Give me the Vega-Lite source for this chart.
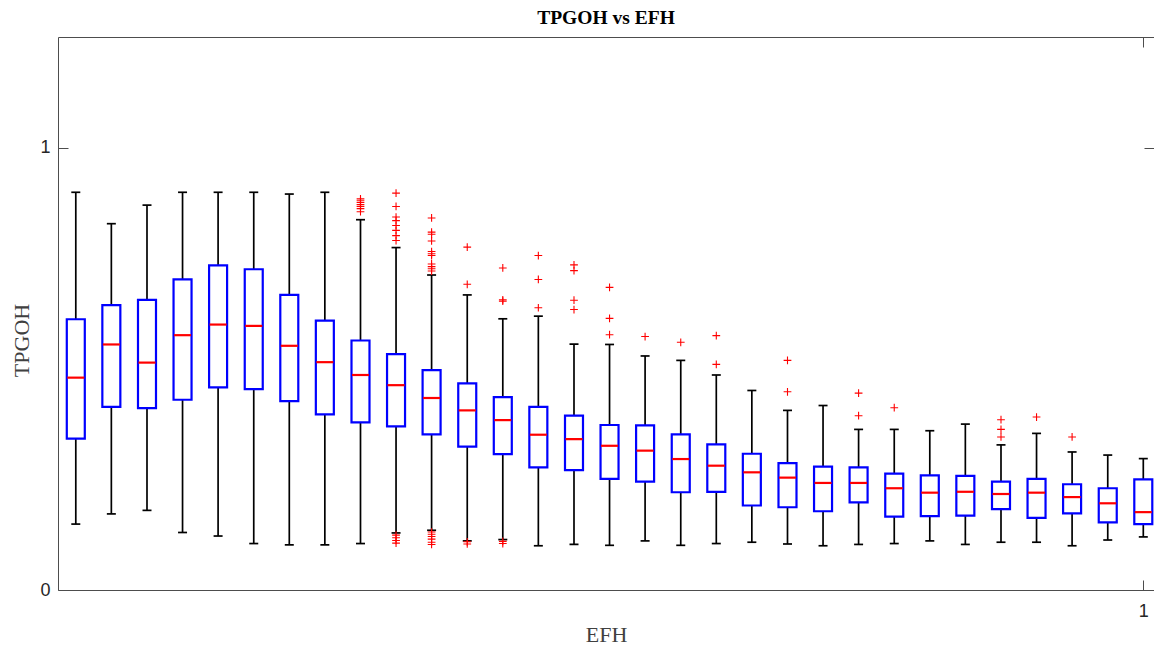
{
  "$schema": "https://vega.github.io/schema/vega-lite/v6.json",
  "width": 1096,
  "height": 553,
  "autosize": {"type": "none"},
  "padding": {"left": 58, "top": 37, "right": 0, "bottom": 56},
  "background": "white",
  "title": {
    "text": "TPGOH vs EFH",
    "font": "Liberation Serif",
    "fontSize": 19.5,
    "fontWeight": "bold",
    "color": "#000000",
    "offset": 8,
    "anchor": "middle"
  },
  "config": {
    "view": {"stroke": null},
    "axis": {"grid": false}
  },
  "datasets": {
    "boxes": [
      {"pos": 0, "low": 0.149, "q1": 0.342, "med": 0.480, "q3": 0.612, "high": 0.899},
      {"pos": 0.0333, "low": 0.172, "q1": 0.414, "med": 0.555, "q3": 0.644, "high": 0.828},
      {"pos": 0.0667, "low": 0.180, "q1": 0.411, "med": 0.514, "q3": 0.656, "high": 0.870},
      {"pos": 0.1, "low": 0.130, "q1": 0.430, "med": 0.576, "q3": 0.702, "high": 0.899},
      {"pos": 0.1333, "low": 0.122, "q1": 0.458, "med": 0.600, "q3": 0.734, "high": 0.899},
      {"pos": 0.1667, "low": 0.105, "q1": 0.454, "med": 0.597, "q3": 0.725, "high": 0.899},
      {"pos": 0.2, "low": 0.102, "q1": 0.427, "med": 0.552, "q3": 0.667, "high": 0.895},
      {"pos": 0.2333, "low": 0.102, "q1": 0.397, "med": 0.515, "q3": 0.609, "high": 0.899},
      {"pos": 0.2667, "low": 0.105, "q1": 0.379, "med": 0.486, "q3": 0.564, "high": 0.837},
      {"pos": 0.3, "low": 0.129, "q1": 0.370, "med": 0.463, "q3": 0.533, "high": 0.774},
      {"pos": 0.3333, "low": 0.135, "q1": 0.352, "med": 0.434, "q3": 0.497, "high": 0.712},
      {"pos": 0.3667, "low": 0.111, "q1": 0.324, "med": 0.406, "q3": 0.467, "high": 0.667},
      {"pos": 0.4, "low": 0.114, "q1": 0.307, "med": 0.384, "q3": 0.436, "high": 0.613},
      {"pos": 0.4333, "low": 0.100, "q1": 0.277, "med": 0.351, "q3": 0.414, "high": 0.619},
      {"pos": 0.4667, "low": 0.103, "q1": 0.271, "med": 0.341, "q3": 0.394, "high": 0.556},
      {"pos": 0.5, "low": 0.101, "q1": 0.251, "med": 0.326, "q3": 0.373, "high": 0.555},
      {"pos": 0.5333, "low": 0.111, "q1": 0.245, "med": 0.315, "q3": 0.372, "high": 0.529},
      {"pos": 0.5667, "low": 0.101, "q1": 0.221, "med": 0.296, "q3": 0.352, "high": 0.519},
      {"pos": 0.6, "low": 0.105, "q1": 0.222, "med": 0.281, "q3": 0.329, "high": 0.486},
      {"pos": 0.6333, "low": 0.108, "q1": 0.191, "med": 0.266, "q3": 0.308, "high": 0.451},
      {"pos": 0.6667, "low": 0.104, "q1": 0.187, "med": 0.254, "q3": 0.287, "high": 0.406},
      {"pos": 0.7, "low": 0.100, "q1": 0.178, "med": 0.242, "q3": 0.279, "high": 0.417},
      {"pos": 0.7333, "low": 0.103, "q1": 0.198, "med": 0.242, "q3": 0.277, "high": 0.363},
      {"pos": 0.7667, "low": 0.105, "q1": 0.166, "med": 0.230, "q3": 0.263, "high": 0.363},
      {"pos": 0.8, "low": 0.111, "q1": 0.167, "med": 0.220, "q3": 0.259, "high": 0.360},
      {"pos": 0.8333, "low": 0.103, "q1": 0.168, "med": 0.222, "q3": 0.258, "high": 0.375},
      {"pos": 0.8667, "low": 0.108, "q1": 0.183, "med": 0.217, "q3": 0.245, "high": 0.328},
      {"pos": 0.9, "low": 0.108, "q1": 0.163, "med": 0.220, "q3": 0.251, "high": 0.354},
      {"pos": 0.9333, "low": 0.100, "q1": 0.173, "med": 0.210, "q3": 0.239, "high": 0.312},
      {"pos": 0.9667, "low": 0.113, "q1": 0.153, "med": 0.196, "q3": 0.230, "high": 0.305},
      {"pos": 1, "low": 0.120, "q1": 0.149, "med": 0.176, "q3": 0.250, "high": 0.297}
    ],
    "outliers": [
      {"pos": 0.2667, "v": 0.884}, {"pos": 0.2667, "v": 0.880}, {"pos": 0.2667, "v": 0.876}, {"pos": 0.2667, "v": 0.871},
      {"pos": 0.2667, "v": 0.867}, {"pos": 0.2667, "v": 0.862}, {"pos": 0.2667, "v": 0.855},
      {"pos": 0.3, "v": 0.897}, {"pos": 0.3, "v": 0.867}, {"pos": 0.3, "v": 0.843}, {"pos": 0.3, "v": 0.835},
      {"pos": 0.3, "v": 0.824}, {"pos": 0.3, "v": 0.813}, {"pos": 0.3, "v": 0.801}, {"pos": 0.3, "v": 0.790},
      {"pos": 0.3, "v": 0.124}, {"pos": 0.3, "v": 0.118}, {"pos": 0.3, "v": 0.112}, {"pos": 0.3, "v": 0.106},
      {"pos": 0.3333, "v": 0.841}, {"pos": 0.3333, "v": 0.809}, {"pos": 0.3333, "v": 0.804}, {"pos": 0.3333, "v": 0.789},
      {"pos": 0.3333, "v": 0.765}, {"pos": 0.3333, "v": 0.760}, {"pos": 0.3333, "v": 0.756}, {"pos": 0.3333, "v": 0.737},
      {"pos": 0.3333, "v": 0.731}, {"pos": 0.3333, "v": 0.726}, {"pos": 0.3333, "v": 0.721},
      {"pos": 0.3333, "v": 0.131}, {"pos": 0.3333, "v": 0.126}, {"pos": 0.3333, "v": 0.121}, {"pos": 0.3333, "v": 0.115},
      {"pos": 0.3333, "v": 0.108}, {"pos": 0.3333, "v": 0.103},
      {"pos": 0.3667, "v": 0.775}, {"pos": 0.3667, "v": 0.691}, {"pos": 0.3667, "v": 0.109}, {"pos": 0.3667, "v": 0.104},
      {"pos": 0.4, "v": 0.728}, {"pos": 0.4, "v": 0.656}, {"pos": 0.4, "v": 0.653}, {"pos": 0.4, "v": 0.110}, {"pos": 0.4, "v": 0.105},
      {"pos": 0.4333, "v": 0.756}, {"pos": 0.4333, "v": 0.702}, {"pos": 0.4333, "v": 0.638},
      {"pos": 0.4667, "v": 0.735}, {"pos": 0.4667, "v": 0.722}, {"pos": 0.4667, "v": 0.655}, {"pos": 0.4667, "v": 0.634},
      {"pos": 0.5, "v": 0.684}, {"pos": 0.5, "v": 0.614}, {"pos": 0.5, "v": 0.577},
      {"pos": 0.5333, "v": 0.573},
      {"pos": 0.5667, "v": 0.560},
      {"pos": 0.6, "v": 0.575}, {"pos": 0.6, "v": 0.510},
      {"pos": 0.6667, "v": 0.519}, {"pos": 0.6667, "v": 0.448},
      {"pos": 0.7333, "v": 0.445}, {"pos": 0.7333, "v": 0.394},
      {"pos": 0.7667, "v": 0.412},
      {"pos": 0.8667, "v": 0.385}, {"pos": 0.8667, "v": 0.363}, {"pos": 0.8667, "v": 0.346},
      {"pos": 0.9, "v": 0.391},
      {"pos": 0.9333, "v": 0.346}
    ]
  },
  "resolve": {"axis": {"x": "independent", "y": "independent"}},
  "layer": [
    {
      "data": {"name": "boxes"},
      "mark": {"type": "rule", "color": "#000000", "strokeWidth": 1.7, "opacity": 1},
      "encoding": {
        "x": {
          "field": "pos", "type": "quantitative",
          "scale": {"domain": [-0.01667, 1.01003], "nice": false, "zero": false, "padding": 0},
          "axis": {
            "orient": "bottom", "values": [1], "format": "d",
            "domainColor": "#4d4d4d", "tickColor": "#4d4d4d", "tickSize": -10,
            "labelFont": "Liberation Sans", "labelFontSize": 18, "labelColor": "#262626", "labelPadding": 22,
            "labelAlign": "right", "labelOffset": 5,
            "title": "EFH", "titleFont": "Liberation Serif", "titleFontSize": 22, "titleFontWeight": "normal",
            "titleColor": "#404040", "titlePadding": 4
          }
        },
        "y": {
          "field": "low", "type": "quantitative",
          "scale": {"domain": [0, 1.25], "nice": false, "zero": true, "padding": 0},
          "axis": {
            "orient": "left", "values": [0, 1], "format": "d",
            "domainColor": "#4d4d4d", "tickColor": "#4d4d4d", "tickSize": -10,
            "labelFont": "Liberation Sans", "labelFontSize": 18, "labelColor": "#262626", "labelPadding": 18,
            "title": "TPGOH", "titleFont": "Liberation Serif", "titleFontSize": 22, "titleFontWeight": "normal",
            "titleColor": "#404040", "titlePadding": 6, "titleY": 303
          }
        },
        "y2": {"field": "high"}
      }
    },
    {
      "data": {"name": "boxes"},
      "mark": {"type": "tick", "orient": "horizontal", "color": "#000000", "size": 9, "thickness": 1.7, "opacity": 1},
      "encoding": {
        "x": {
          "field": "pos", "type": "quantitative",
          "axis": {
            "orient": "top", "values": [1], "labels": false, "title": null,
            "domainColor": "#4d4d4d", "tickColor": "#4d4d4d", "tickSize": -10
          }
        },
        "y": {
          "field": "low", "type": "quantitative",
          "axis": {
            "orient": "right", "values": [0, 1], "labels": false, "title": null, "domain": false,
            "tickColor": "#4d4d4d", "tickSize": -10
          }
        }
      }
    },
    {
      "data": {"name": "boxes"},
      "mark": {"type": "tick", "orient": "horizontal", "color": "#000000", "size": 9, "thickness": 1.7, "opacity": 1},
      "encoding": {
        "x": {"field": "pos", "type": "quantitative", "axis": null},
        "y": {"field": "high", "type": "quantitative", "axis": null}
      }
    },
    {
      "data": {"name": "boxes"},
      "mark": {"type": "bar", "width": 18, "fill": "#ffffff", "stroke": "#0000ff", "strokeWidth": 2.2, "opacity": 1},
      "encoding": {
        "x": {"field": "pos", "type": "quantitative", "axis": null},
        "y": {"field": "q1", "type": "quantitative", "axis": null},
        "y2": {"field": "q3"}
      }
    },
    {
      "data": {"name": "boxes"},
      "mark": {"type": "tick", "orient": "horizontal", "color": "#ff0000", "size": 17, "thickness": 2.2, "opacity": 1},
      "encoding": {
        "x": {"field": "pos", "type": "quantitative", "axis": null},
        "y": {"field": "med", "type": "quantitative", "axis": null}
      }
    },
    {
      "data": {"name": "outliers"},
      "mark": {"type": "point", "shape": "M-1,0H1M0,-1V1", "filled": false, "stroke": "#ff0000", "strokeWidth": 1.1, "size": 60, "opacity": 1},
      "encoding": {
        "x": {"field": "pos", "type": "quantitative", "axis": null},
        "y": {"field": "v", "type": "quantitative", "axis": null}
      }
    }
  ]
}
